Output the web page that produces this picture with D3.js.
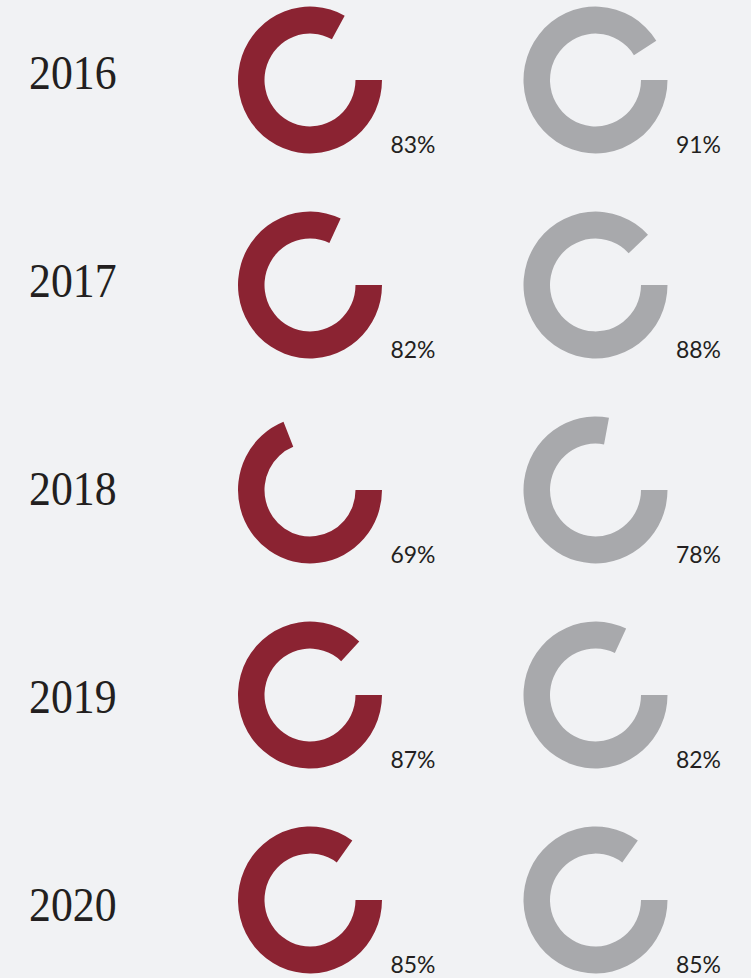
<!DOCTYPE html>
<html>
<head>
<meta charset="utf-8">
<script src="https://cdn.jsdelivr.net/npm/d3@7"></script>
<style>
  html, body { margin: 0; padding: 0; background: #f1f2f4; }
  svg { display: block; }
</style>
</head>
<body>
<script>
const years = ["2016", "2017", "2018", "2019", "2020"];
const seriesA = [83, 82, 69, 87, 85];   // red
const seriesB = [91, 88, 78, 82, 85];   // gray
const seriesNames = ["A", "B"];
const seriesColors = ["#8b2332", "#a8a9ac"];

const W = 751, H = 978;
const svg = d3.select("body").append("svg").attr("width", W).attr("height", H);
svg.append("rect").attr("width", W).attr("height", H).attr("fill", "#f1f2f4");

const yRow = d3.scalePoint().domain(years).range([80, 900]);
const yYear = d3.scalePoint().domain(years).range([88.5, 920.5]);
const xSeries = d3.scalePoint().domain(seriesNames).range([310, 595.5]);
const angle = d3.scaleLinear().domain([0, 100]).range([0, 2 * Math.PI]);

const outerR = 72, innerR = 45.5;
const arc = d3.arc().innerRadius(innerR).outerRadius(outerR);

// year labels
svg.selectAll("text.year").data(years).join("text")
  .attr("class", "year")
  .attr("x", 29)
  .attr("y", d => yYear(d))
  .attr("textLength", 87.5)
  .attr("lengthAdjust", "spacingAndGlyphs")
  .attr("font-family", "'Liberation Serif', 'DejaVu Serif', serif")
  .attr("font-size", 49)
  .attr("fill", "#231f20")
  .text(d => d);

const cells = [];
years.forEach((y, i) => {
  cells.push({ year: y, s: "A", v: seriesA[i], color: seriesColors[0] });
  cells.push({ year: y, s: "B", v: seriesB[i], color: seriesColors[1] });
});

const g = svg.selectAll("g.cell").data(cells).join("g")
  .attr("class", "cell")
  .attr("transform", d => `translate(${xSeries(d.s)},${yRow(d.year)})`);

g.append("path")
  .attr("transform", "scale(1,1.02)")
  .attr("d", d => arc({ startAngle: Math.PI / 2, endAngle: Math.PI / 2 + angle(d.v) }))
  .attr("fill", d => d.color);

g.append("text")
  .attr("x", 80.5)
  .attr("y", 73)
  .attr("textLength", 45)
  .attr("lengthAdjust", "spacingAndGlyphs")
  .attr("font-family", "Lato, 'Open Sans', sans-serif")
  .attr("font-size", 23)
  .attr("fill", "#231f20")
  .text(d => d.v + "%");
</script>
</body>
</html>
